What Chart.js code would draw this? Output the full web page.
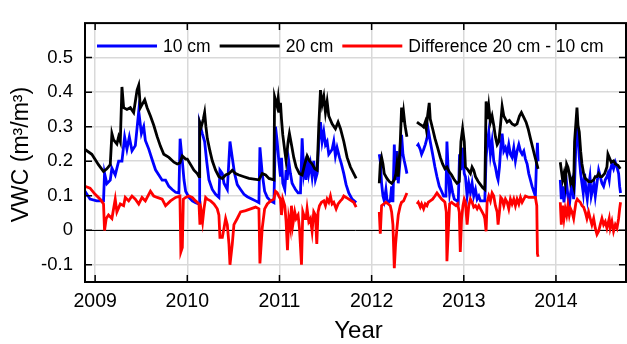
<!DOCTYPE html>
<html>
<head>
<meta charset="utf-8">
<script src="https://cdn.jsdelivr.net/npm/chart.js@4.4.1/dist/chart.umd.min.js"></script>
<style>
  html, body { margin: 0; padding: 0; background: #fff; }
  #wrap { width: 627px; height: 344px; }
</style>
</head>
<body>
<div id="wrap"><canvas id="vwc" width="627" height="344"></canvas></div>
<script>
// volumetric water content, [decimal year, m3/m3]; null = logger offline
const vwc10cm = [
  [2008.89, 0.113], [2008.945, 0.09], [2009.018, 0.085], [2009.091, 0.085], [2009.102, 0.165],
  [2009.127, 0.135], [2009.164, 0.145], [2009.182, 0.18], [2009.218, 0.16], [2009.255, 0.20],
  [2009.291, 0.20], [2009.32, 0.27], [2009.345, 0.235], [2009.371, 0.27], [2009.4, 0.23],
  [2009.436, 0.245], [2009.473, 0.345], [2009.502, 0.28], [2009.527, 0.30], [2009.545, 0.26],
  [2009.582, 0.235], [2009.618, 0.205], [2009.655, 0.175], [2009.691, 0.16], [2009.727, 0.145],
  [2009.764, 0.145], [2009.8, 0.127], [2009.836, 0.118], [2009.873, 0.11], [2009.909, 0.108],
  [2009.922, 0.265], [2009.946, 0.20], [2009.964, 0.146], [2009.982, 0.113], [2010.018, 0.095],
  [2010.054, 0.085], [2010.09, 0.08], [2010.127, 0.076], [2010.134, 0.31], [2010.163, 0.28],
  [2010.188, 0.257], [2010.21, 0.20], [2010.235, 0.146], [2010.271, 0.118], [2010.307, 0.104],
  [2010.343, 0.095], [2010.354, 0.174], [2010.38, 0.164], [2010.398, 0.136], [2010.416, 0.127],
  [2010.434, 0.118], [2010.463, 0.257], [2010.488, 0.21], [2010.513, 0.164], [2010.542, 0.132],
  [2010.578, 0.118], [2010.615, 0.104], [2010.651, 0.097], [2010.705, 0.09], [2010.741, 0.085],
  [2010.777, 0.08], [2010.788, 0.24], [2010.813, 0.164], [2010.839, 0.113], [2010.868, 0.095],
  [2010.904, 0.085], [2010.94, 0.08], [2010.957, 0.30], [2010.975, 0.257], [2010.993, 0.20],
  [2011.011, 0.155], [2011.022, 0.21], [2011.036, 0.136], [2011.058, 0.118], [2011.072, 0.174],
  [2011.083, 0.146], [2011.101, 0.20], [2011.119, 0.164], [2011.137, 0.136], [2011.155, 0.127],
  [2011.174, 0.118], [2011.202, 0.108], [2011.228, 0.108], [2011.246, 0.266], [2011.264, 0.164],
  [2011.275, 0.183], [2011.289, 0.146], [2011.3, 0.215], [2011.318, 0.164], [2011.336, 0.192],
  [2011.354, 0.155], [2011.372, 0.201], [2011.39, 0.146], [2011.409, 0.164], [2011.427, 0.257],
  [2011.445, 0.313], [2011.463, 0.257], [2011.481, 0.285], [2011.499, 0.248], [2011.517, 0.257],
  [2011.535, 0.22], [2011.571, 0.234], [2011.589, 0.257], [2011.607, 0.215], [2011.625, 0.239],
  [2011.651, 0.211], [2011.672, 0.192], [2011.698, 0.164], [2011.723, 0.132], [2011.752, 0.108],
  [2011.788, 0.09], [2011.832, 0.08],
  [2011.95, null],
  [2012.083, 0.22], [2012.094, 0.20], [2012.108, 0.136], [2012.123, 0.099], [2012.137, 0.085],
  [2012.155, 0.118], [2012.166, 0.09], [2012.181, 0.081], [2012.202, 0.085], [2012.217, 0.127],
  [2012.231, 0.081], [2012.246, 0.248], [2012.26, 0.146], [2012.275, 0.229], [2012.289, 0.136],
  [2012.311, 0.211], [2012.325, 0.276], [2012.34, 0.22], [2012.354, 0.201], [2012.369, 0.183],
  [2012.383, 0.164],
  [2012.44, null],
  [2012.492, 0.243], [2012.506, 0.248], [2012.528, 0.234], [2012.542, 0.22], [2012.564, 0.234],
  [2012.582, 0.248], [2012.6, 0.266], [2012.615, 0.29], [2012.636, 0.257], [2012.662, 0.22],
  [2012.687, 0.183], [2012.709, 0.155], [2012.734, 0.127], [2012.759, 0.113], [2012.781, 0.099],
  [2012.806, 0.099], [2012.817, 0.257], [2012.832, 0.164], [2012.846, 0.109], [2012.86, 0.136],
  [2012.879, 0.109], [2012.897, 0.09], [2012.926, 0.085], [2012.94, 0.081], [2012.954, 0.22],
  [2012.969, 0.174], [2012.987, 0.239], [2013.005, 0.164], [2013.018, 0.155], [2013.036, 0.099],
  [2013.054, 0.136], [2013.072, 0.109], [2013.09, 0.136], [2013.108, 0.099], [2013.127, 0.118],
  [2013.145, 0.09], [2013.163, 0.099], [2013.181, 0.085], [2013.206, 0.085], [2013.228, 0.085],
  [2013.242, 0.211], [2013.257, 0.257], [2013.271, 0.285], [2013.289, 0.22], [2013.307, 0.257],
  [2013.325, 0.201], [2013.343, 0.183], [2013.362, 0.155], [2013.372, 0.146], [2013.387, 0.183],
  [2013.401, 0.239], [2013.416, 0.28], [2013.434, 0.229], [2013.452, 0.239], [2013.47, 0.22],
  [2013.488, 0.248], [2013.506, 0.22], [2013.524, 0.211], [2013.542, 0.239], [2013.56, 0.201],
  [2013.578, 0.229], [2013.597, 0.248], [2013.615, 0.229], [2013.633, 0.22], [2013.651, 0.229],
  [2013.669, 0.206], [2013.687, 0.192], [2013.705, 0.164], [2013.723, 0.146], [2013.741, 0.127],
  [2013.759, 0.113], [2013.777, 0.099], [2013.788, 0.192], [2013.799, 0.253], [2013.806, 0.20],
  [2013.93, null],
  [2014.047, 0.146], [2014.058, 0.09], [2014.072, 0.127], [2014.087, 0.081], [2014.101, 0.118],
  [2014.116, 0.136], [2014.13, 0.099], [2014.145, 0.071], [2014.159, 0.109], [2014.174, 0.136],
  [2014.192, 0.09], [2014.202, 0.136], [2014.217, 0.257], [2014.228, 0.313], [2014.239, 0.276],
  [2014.253, 0.211], [2014.268, 0.164], [2014.282, 0.136], [2014.296, 0.108], [2014.311, 0.164],
  [2014.325, 0.118], [2014.34, 0.09], [2014.354, 0.127], [2014.369, 0.155], [2014.383, 0.099],
  [2014.398, 0.118], [2014.412, 0.136], [2014.427, 0.099], [2014.445, 0.136], [2014.463, 0.174],
  [2014.481, 0.155], [2014.499, 0.136], [2014.517, 0.127], [2014.535, 0.146], [2014.553, 0.155],
  [2014.564, 0.164], [2014.578, 0.146], [2014.589, 0.174], [2014.607, 0.192], [2014.625, 0.178],
  [2014.644, 0.197], [2014.662, 0.183], [2014.68, 0.164], [2014.691, 0.127], [2014.701, 0.108]
];

const vwc20cm = [
  [2008.89, 0.234], [2008.964, 0.22], [2009.036, 0.19], [2009.091, 0.17], [2009.127, 0.178],
  [2009.164, 0.19], [2009.182, 0.28], [2009.2, 0.262], [2009.236, 0.25], [2009.255, 0.271],
  [2009.273, 0.257], [2009.291, 0.415], [2009.309, 0.355], [2009.345, 0.35], [2009.382, 0.355],
  [2009.418, 0.341], [2009.455, 0.406], [2009.473, 0.42], [2009.491, 0.355], [2009.509, 0.364],
  [2009.538, 0.378], [2009.564, 0.355], [2009.6, 0.331], [2009.636, 0.304], [2009.673, 0.271],
  [2009.709, 0.243], [2009.745, 0.22], [2009.8, 0.211], [2009.855, 0.197], [2009.891, 0.192],
  [2009.92, 0.195], [2009.946, 0.215], [2009.982, 0.206], [2010.0, 0.206], [2010.036, 0.19],
  [2010.072, 0.174], [2010.108, 0.164], [2010.127, 0.155], [2010.134, 0.313], [2010.152, 0.30],
  [2010.174, 0.322], [2010.188, 0.341], [2010.202, 0.30], [2010.217, 0.266], [2010.246, 0.229],
  [2010.271, 0.201], [2010.307, 0.174], [2010.343, 0.155], [2010.38, 0.15], [2010.416, 0.16],
  [2010.452, 0.164], [2010.488, 0.174], [2010.524, 0.164], [2010.56, 0.16], [2010.615, 0.155],
  [2010.669, 0.15], [2010.723, 0.148], [2010.777, 0.146], [2010.813, 0.164], [2010.85, 0.16],
  [2010.886, 0.15], [2010.94, 0.146], [2010.947, 0.387], [2010.975, 0.359], [2010.986, 0.383],
  [2011.0, 0.341], [2011.011, 0.369], [2011.022, 0.322], [2011.036, 0.276], [2011.058, 0.229],
  [2011.072, 0.201], [2011.094, 0.257], [2011.108, 0.28], [2011.13, 0.248], [2011.155, 0.211],
  [2011.181, 0.183], [2011.217, 0.164], [2011.246, 0.16], [2011.275, 0.192], [2011.3, 0.215],
  [2011.325, 0.201], [2011.354, 0.192], [2011.383, 0.178], [2011.409, 0.174], [2011.427, 0.304],
  [2011.445, 0.406], [2011.463, 0.364], [2011.481, 0.387], [2011.499, 0.341], [2011.517, 0.373],
  [2011.535, 0.331], [2011.571, 0.308], [2011.607, 0.294], [2011.636, 0.313], [2011.662, 0.294],
  [2011.698, 0.257], [2011.734, 0.211], [2011.77, 0.183], [2011.806, 0.164], [2011.832, 0.15],
  [2011.95, null],
  [2012.083, 0.136], [2012.094, 0.192], [2012.108, 0.211], [2012.123, 0.192], [2012.137, 0.164],
  [2012.166, 0.15], [2012.192, 0.141], [2012.217, 0.136], [2012.246, 0.146], [2012.264, 0.164],
  [2012.275, 0.192], [2012.289, 0.155], [2012.311, 0.257], [2012.325, 0.355], [2012.336, 0.313],
  [2012.347, 0.341], [2012.362, 0.304], [2012.383, 0.271],
  [2012.44, null],
  [2012.492, 0.313], [2012.517, 0.308], [2012.542, 0.304], [2012.564, 0.299], [2012.582, 0.313],
  [2012.593, 0.294], [2012.607, 0.331], [2012.625, 0.369], [2012.636, 0.322], [2012.662, 0.294],
  [2012.687, 0.266], [2012.716, 0.239], [2012.745, 0.211], [2012.77, 0.192], [2012.795, 0.178],
  [2012.817, 0.183], [2012.842, 0.169], [2012.868, 0.16], [2012.897, 0.146], [2012.926, 0.136],
  [2012.951, 0.141], [2012.969, 0.257], [2012.987, 0.294], [2013.005, 0.257], [2013.018, 0.183],
  [2013.047, 0.174], [2013.072, 0.164], [2013.09, 0.183], [2013.108, 0.174], [2013.127, 0.155],
  [2013.156, 0.141], [2013.181, 0.132], [2013.206, 0.123], [2013.228, 0.118], [2013.242, 0.373],
  [2013.257, 0.322], [2013.271, 0.359], [2013.289, 0.313], [2013.307, 0.331], [2013.325, 0.304],
  [2013.343, 0.271], [2013.362, 0.248], [2013.38, 0.257], [2013.398, 0.304], [2013.416, 0.359],
  [2013.434, 0.331], [2013.452, 0.322], [2013.47, 0.313], [2013.495, 0.318], [2013.524, 0.308],
  [2013.553, 0.304], [2013.578, 0.308], [2013.604, 0.331], [2013.625, 0.341], [2013.651, 0.327],
  [2013.676, 0.313], [2013.698, 0.294], [2013.723, 0.266], [2013.748, 0.239], [2013.77, 0.215],
  [2013.792, 0.192], [2013.806, 0.178],
  [2013.93, null],
  [2014.047, 0.197], [2014.058, 0.174], [2014.072, 0.146], [2014.087, 0.164], [2014.101, 0.136],
  [2014.116, 0.192], [2014.13, 0.183], [2014.145, 0.164], [2014.159, 0.136], [2014.174, 0.146],
  [2014.192, 0.127], [2014.202, 0.257], [2014.217, 0.313], [2014.228, 0.355], [2014.239, 0.304],
  [2014.253, 0.285], [2014.268, 0.229], [2014.282, 0.192], [2014.3, 0.164], [2014.318, 0.15],
  [2014.336, 0.146], [2014.354, 0.141], [2014.383, 0.141], [2014.409, 0.146], [2014.427, 0.155],
  [2014.445, 0.155], [2014.463, 0.164], [2014.481, 0.155], [2014.499, 0.155], [2014.528, 0.164],
  [2014.553, 0.183], [2014.564, 0.22], [2014.578, 0.211], [2014.6, 0.197], [2014.625, 0.201],
  [2014.644, 0.192], [2014.672, 0.188], [2014.698, 0.178]
];

const vwcDiff = [
  [2008.89, 0.127], [2008.945, 0.122], [2009.0, 0.104], [2009.055, 0.09], [2009.091, 0.076],
  [2009.102, -0.001], [2009.12, 0.034], [2009.145, 0.044], [2009.182, 0.034], [2009.218, 0.09],
  [2009.236, 0.053], [2009.273, 0.076], [2009.309, 0.071], [2009.327, 0.095], [2009.364, 0.085],
  [2009.4, 0.099], [2009.436, 0.09], [2009.473, 0.076], [2009.509, 0.095], [2009.545, 0.085],
  [2009.6, 0.113], [2009.636, 0.099], [2009.673, 0.095], [2009.727, 0.09], [2009.764, 0.071],
  [2009.818, 0.085], [2009.873, 0.095], [2009.92, 0.099], [2009.93, -0.063], [2009.946, -0.05],
  [2009.957, 0.09], [2009.982, 0.095], [2010.018, 0.099], [2010.054, 0.095], [2010.09, 0.085],
  [2010.127, 0.076], [2010.137, 0.016], [2010.152, 0.053], [2010.166, 0.025], [2010.181, 0.062],
  [2010.199, 0.095], [2010.217, 0.09], [2010.253, 0.085], [2010.289, 0.076], [2010.325, 0.062],
  [2010.343, 0.044], [2010.354, -0.021], [2010.38, -0.021], [2010.398, 0.006], [2010.416, 0.034],
  [2010.434, 0.016], [2010.452, -0.04], [2010.463, -0.1], [2010.488, -0.04], [2010.506, 0.016],
  [2010.542, 0.034], [2010.578, 0.053], [2010.633, 0.057], [2010.687, 0.062], [2010.741, 0.067],
  [2010.777, 0.062], [2010.788, -0.096], [2010.813, 0.006], [2010.839, 0.062], [2010.868, 0.076],
  [2010.904, 0.085], [2010.94, 0.09], [2010.957, 0.113], [2010.975, 0.109], [2010.993, 0.099],
  [2011.011, 0.09], [2011.022, 0.044], [2011.036, 0.09], [2011.058, 0.071], [2011.072, 0.025],
  [2011.087, -0.058], [2011.101, 0.034], [2011.119, 0.006], [2011.13, 0.071], [2011.145, 0.016],
  [2011.166, 0.053], [2011.181, 0.034], [2011.202, 0.044], [2011.217, 0.006], [2011.239, -0.1],
  [2011.253, 0.053], [2011.275, 0.034], [2011.289, 0.034], [2011.3, 0.062], [2011.318, 0.025],
  [2011.336, 0.034], [2011.354, -0.003], [2011.372, 0.053], [2011.39, 0.044], [2011.405, -0.04],
  [2011.419, 0.053], [2011.434, 0.071], [2011.456, 0.081], [2011.481, 0.085], [2011.499, 0.071],
  [2011.517, 0.09], [2011.535, 0.081], [2011.553, 0.099], [2011.571, 0.076], [2011.589, 0.081],
  [2011.615, 0.062], [2011.636, 0.076], [2011.662, 0.085], [2011.68, 0.09], [2011.698, 0.099],
  [2011.723, 0.095], [2011.752, 0.09], [2011.781, 0.085], [2011.806, 0.081], [2011.832, 0.067],
  [2011.95, null],
  [2012.083, 0.053], [2012.094, -0.01], [2012.108, 0.071], [2012.13, 0.076], [2012.155, 0.081],
  [2012.181, 0.076], [2012.202, 0.071], [2012.217, 0.053], [2012.231, 0.016], [2012.246, -0.11],
  [2012.26, -0.04], [2012.275, 0.006], [2012.289, 0.044], [2012.311, 0.071], [2012.325, 0.081],
  [2012.347, 0.085], [2012.369, 0.099], [2012.383, 0.108],
  [2012.44, null],
  [2012.492, 0.076], [2012.506, 0.081], [2012.528, 0.067], [2012.542, 0.076], [2012.564, 0.062],
  [2012.582, 0.076], [2012.6, 0.071], [2012.615, 0.081], [2012.636, 0.085], [2012.662, 0.09],
  [2012.687, 0.099], [2012.709, 0.108], [2012.734, 0.099], [2012.759, 0.09], [2012.781, 0.085],
  [2012.795, 0.081], [2012.81, 0.053], [2012.817, -0.09], [2012.832, -0.003], [2012.846, 0.076],
  [2012.868, 0.081], [2012.889, 0.076], [2012.915, 0.071], [2012.933, 0.076], [2012.951, 0.053],
  [2012.962, -0.063], [2012.976, 0.034], [2012.991, 0.071], [2013.005, 0.09], [2013.018, 0.081],
  [2013.036, 0.016], [2013.054, 0.071], [2013.072, 0.09], [2013.09, 0.081], [2013.108, 0.067],
  [2013.127, 0.071], [2013.145, 0.062], [2013.163, 0.071], [2013.181, 0.062], [2013.199, 0.053],
  [2013.217, 0.044], [2013.228, 0.034], [2013.242, -0.003], [2013.253, 0.081], [2013.271, 0.099],
  [2013.289, 0.085], [2013.307, 0.108], [2013.325, 0.099], [2013.343, 0.071], [2013.362, 0.053],
  [2013.372, 0.016], [2013.387, 0.053], [2013.401, 0.095], [2013.416, 0.09], [2013.434, 0.071],
  [2013.452, 0.09], [2013.47, 0.081], [2013.488, 0.062], [2013.506, 0.09], [2013.524, 0.076],
  [2013.542, 0.09], [2013.56, 0.071], [2013.578, 0.09], [2013.597, 0.076], [2013.615, 0.095],
  [2013.633, 0.081], [2013.651, 0.09], [2013.669, 0.099], [2013.705, 0.095], [2013.741, 0.095],
  [2013.777, 0.095], [2013.792, 0.071], [2013.799, -0.068], [2013.806, -0.077],
  [2013.93, null],
  [2014.047, 0.081], [2014.058, 0.016], [2014.072, 0.071], [2014.087, 0.034], [2014.101, 0.062],
  [2014.116, 0.044], [2014.13, 0.071], [2014.145, 0.044], [2014.159, 0.062], [2014.174, 0.053],
  [2014.192, 0.034], [2014.202, 0.053], [2014.217, 0.081], [2014.231, 0.09], [2014.246, 0.085],
  [2014.264, 0.081], [2014.282, 0.071], [2014.3, 0.067], [2014.318, 0.053], [2014.336, 0.034],
  [2014.354, 0.053], [2014.372, 0.034], [2014.39, 0.016], [2014.409, 0.034], [2014.427, 0.006],
  [2014.445, -0.012], [2014.463, -0.003], [2014.481, 0.016], [2014.499, 0.034], [2014.517, 0.016],
  [2014.535, 0.025], [2014.553, 0.006], [2014.578, 0.034], [2014.589, 0.006], [2014.607, 0.025],
  [2014.625, -0.003], [2014.644, 0.016], [2014.662, 0.006], [2014.68, 0.034], [2014.691, 0.062],
  [2014.701, 0.081]
];

const yearTicks = [2009, 2010, 2011, 2012, 2013, 2014];
const vwcTicks = [-0.1, 0, 0.1, 0.2, 0.3, 0.4, 0.5];
const seriesLabels = ['10 cm', '20 cm', 'Difference 20 cm - 10 cm'];
const seriesColors = ['#0000ff', '#000000', '#ff0000'];

const FONT = '"Liberation Sans", Arial, sans-serif';
const toPoints = rows => rows.map(([x, y]) => ({ x, y }));

// frame, inward ticks, zero line, legend and axis titles
const framePlugin = {
    id: 'frame',
    beforeDatasetsDraw(chart) {
        const { ctx, chartArea: a, scales: { y } } = chart;
        const y0 = Math.round(y.getPixelForValue(0)) + 0.5;
        ctx.save();
        ctx.strokeStyle = '#000';
        ctx.lineWidth = 1;
        ctx.beginPath();
        ctx.moveTo(a.left, y0);
        ctx.lineTo(a.right, y0);
        ctx.stroke();
        ctx.restore();
    },
    afterDatasetsDraw(chart) {
        const { ctx, chartArea: a, scales: { x, y } } = chart;
        ctx.save();
        ctx.strokeStyle = '#000';
        ctx.lineWidth = 2;
        ctx.strokeRect(a.left, a.top, a.right - a.left, a.bottom - a.top);

        const tk = 7;
        ctx.lineWidth = 1.5;
        ctx.beginPath();
        yearTicks.forEach(v => {
            const px = x.getPixelForValue(v);
            ctx.moveTo(px, a.bottom); ctx.lineTo(px, a.bottom - tk);
            ctx.moveTo(px, a.top); ctx.lineTo(px, a.top + tk);
        });
        vwcTicks.forEach(v => {
            const py = y.getPixelForValue(v);
            ctx.moveTo(a.left, py); ctx.lineTo(a.left + tk, py);
            ctx.moveTo(a.right, py); ctx.lineTo(a.right - tk, py);
        });
        ctx.stroke();

        // legend row
        ctx.font = '17.5px ' + FONT;
        ctx.textBaseline = 'middle';
        ctx.textAlign = 'left';
        const ly = 46;
        let lx = 97;
        seriesLabels.forEach((label, i) => {
            ctx.strokeStyle = seriesColors[i];
            ctx.lineWidth = 2.8;
            ctx.beginPath();
            ctx.moveTo(lx, ly); ctx.lineTo(lx + 60, ly);
            ctx.stroke();
            ctx.fillStyle = '#000';
            ctx.fillText(label, lx + 66, ly + 1);
            lx += 66 + ctx.measureText(label).width + 9;
        });

        // axis titles
        ctx.font = '24px ' + FONT;
        ctx.textAlign = 'center';
        ctx.fillText('Year', (a.left + a.right) / 2 + 3, 331);
        ctx.font = '23px ' + FONT;
        ctx.translate(22, (a.top + a.bottom) / 2 + 2);
        ctx.rotate(-Math.PI / 2);
        ctx.fillText('VWC (m\u00b3/m\u00b3)', 0, 0);
        ctx.restore();
    }
};

new Chart(document.getElementById('vwc'), {
    type: 'line',
    data: {
        datasets: [
            { label: seriesLabels[2], data: toPoints(vwcDiff), borderColor: seriesColors[2], order: 0 },
            { label: seriesLabels[1], data: toPoints(vwc20cm), borderColor: seriesColors[1], order: 1 },
            { label: seriesLabels[0], data: toPoints(vwc10cm), borderColor: seriesColors[0], order: 2 }
        ]
    },
    options: {
        responsive: false,
        animation: false,
        devicePixelRatio: 1,
        spanGaps: false,
        elements: {
            line: { borderWidth: 2.8, tension: 0, fill: false },
            point: { radius: 0 }
        },
        layout: { padding: { top: 13, right: 1, left: 0, bottom: 0 } },
        plugins: { legend: { display: false }, tooltip: { enabled: false } },
        scales: {
            x: {
                type: 'linear',
                min: 2008.89,
                max: 2014.76,
                afterFit: s => { s.height = 62; },
                afterBuildTicks: s => { s.ticks = yearTicks.map(value => ({ value })); },
                grid: { color: '#d9d9d9', lineWidth: 1.5, drawTicks: false },
                border: { display: false },
                ticks: {
                    padding: 8,
                    color: '#000',
                    font: { family: FONT, size: 19.5 },
                    maxRotation: 0,
                    callback: v => String(v)
                }
            },
            y: {
                min: -0.15,
                max: 0.6,
                afterFit: s => { s.width = 85; },
                afterBuildTicks: s => { s.ticks = vwcTicks.map(value => ({ value })); },
                grid: { color: '#d9d9d9', lineWidth: 1.5, drawTicks: false },
                border: { display: false },
                ticks: {
                    padding: 12,
                    color: '#000',
                    font: { family: FONT, size: 18.5 },
                    callback: v => (Math.abs(v) < 1e-9 ? '0' : v.toFixed(1))
                }
            }
        }
    },
    plugins: [framePlugin]
});
</script>
</body>
</html>
